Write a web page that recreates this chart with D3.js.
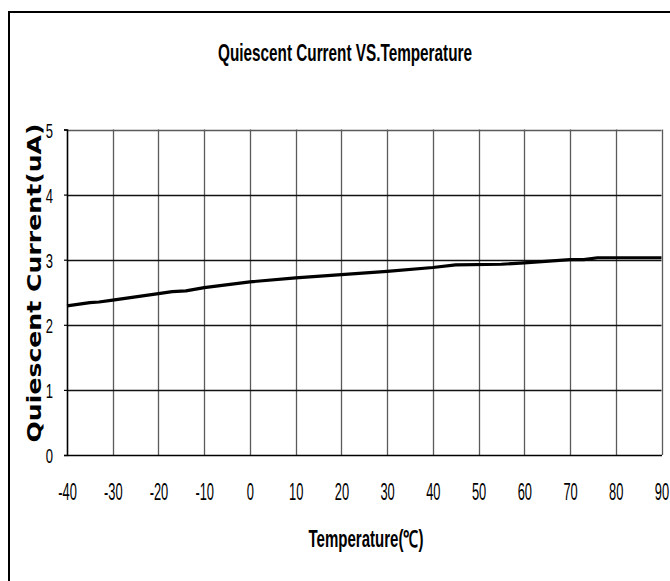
<!DOCTYPE html>
<html>
<head>
<meta charset="utf-8">
<script src="https://cdn.jsdelivr.net/npm/d3@7"></script>
<style>
  html, body { margin: 0; padding: 0; background: #fff; }
  svg { display: block; }
</style>
</head>
<body>
<svg id="chart" width="670" height="581"></svg>
<script>
// ---- data ----
const temperatures = [-40, -35, -33, -30, -25, -20, -17, -14, -10, 0, 10, 20, 30, 40, 45, 55, 60, 70, 73, 76, 90];
const currents     = [2.29, 2.34, 2.35, 2.38, 2.43, 2.48, 2.51, 2.52, 2.57, 2.66, 2.72, 2.77, 2.82, 2.88, 2.92, 2.93, 2.95, 3.00, 3.00, 3.03, 3.03];
const xTicks = [-40, -30, -20, -10, 0, 10, 20, 30, 40, 50, 60, 70, 80, 90];
const yTicks = [0, 1, 2, 3, 4, 5];
const titleText = "Quiescent Current VS.Temperature";
const xLabel = "Temperature(\u2103)";
const yLabel = "Quiescent Current(uA)";

const svg = d3.select("#chart");
const W = 670, H = 581;
const plot = { left: 67, right: 661.5, top: 129.5, bottom: 455 };

// outer border (top & left visible)
svg.append("path")
  .attr("d", `M9,${H + 5} L9,12 L${W + 5},12`)
  .attr("fill", "none").attr("stroke", "#000").attr("stroke-width", 2);

const x = d3.scaleLinear().domain([-40, 90]).range([plot.left, plot.right]);
const y = d3.scaleLinear().domain([0, 5]).range([plot.bottom, plot.top]);

const narrow = (sel, factor) => {
  sel.each(function () {
    const w = this.getComputedTextLength();
    d3.select(this).attr("textLength", w * factor).attr("lengthAdjust", "spacingAndGlyphs");
  });
};

// vertical grid
svg.append("g")
  .selectAll("line").data(xTicks.slice(1)).join("line")
  .attr("x1", d => Math.round(x(d)) + 0.5).attr("x2", d => Math.round(x(d)) + 0.5)
  .attr("y1", plot.top).attr("y2", plot.bottom)
  .attr("stroke", "#5a5a5a").attr("stroke-width", 1.3);

// horizontal grid
svg.append("g")
  .selectAll("line").data(yTicks.slice(1)).join("line")
  .attr("x1", plot.left).attr("x2", plot.right)
  .attr("y1", d => Math.round(y(d)) + 0.5).attr("y2", d => Math.round(y(d)) + 0.5)
  .attr("stroke", d => d === 5 ? "#5a5a5a" : "#111").attr("stroke-width", 1.3);

// y axis
const gy = svg.append("g")
  .attr("transform", `translate(${plot.left},0)`)
  .call(d3.axisLeft(y).tickValues(yTicks).tickSize(3).tickPadding(11).tickFormat(d => String(d)));
gy.select(".domain").attr("stroke", "#000").attr("stroke-width", 1.6);
gy.selectAll(".tick line").attr("stroke", "#000").attr("stroke-width", 1.2);
gy.selectAll(".tick text")
  .attr("font-family", "'Liberation Sans', Arial, sans-serif")
  .attr("font-size", 21).attr("fill", "#000").attr("dy", "0.36em")
  .call(narrow, 0.62);

// x axis
const gx = svg.append("g")
  .attr("transform", `translate(0,${plot.bottom})`)
  .call(d3.axisBottom(x).tickValues(xTicks).tickSize(0).tickPadding(29).tickFormat(d => String(d)));
gx.select(".domain").attr("stroke", "#000").attr("stroke-width", 1.6);
gx.selectAll(".tick text")
  .attr("font-family", "'Liberation Sans', Arial, sans-serif")
  .attr("font-size", 23).attr("fill", "#000").attr("dy", "0.71em")
  .call(narrow, 0.56);

// line
const line = d3.line().x((d, i) => x(temperatures[i])).y(d => y(d));
svg.append("path")
  .datum(currents)
  .attr("d", line)
  .attr("fill", "none").attr("stroke", "#000").attr("stroke-width", 3.2)
  .attr("stroke-linejoin", "round");

// title
svg.append("text")
  .attr("x", 345).attr("y", 61).attr("text-anchor", "middle")
  .attr("font-family", "'Liberation Sans', Arial, sans-serif")
  .attr("font-weight", "bold").attr("font-size", 24)
  .attr("textLength", 254).attr("lengthAdjust", "spacingAndGlyphs")
  .text(titleText);

// x label
svg.append("text")
  .attr("x", 366).attr("y", 547).attr("text-anchor", "middle")
  .attr("font-family", "'Liberation Sans', Arial, sans-serif")
  .attr("font-weight", "bold").attr("font-size", 23)
  .attr("textLength", 115).attr("lengthAdjust", "spacingAndGlyphs")
  .text(xLabel);

// y label
svg.append("text")
  .attr("transform", "translate(41,283) rotate(-90)")
  .attr("text-anchor", "middle")
  .attr("font-family", "'DejaVu Sans', Verdana, sans-serif")
  .attr("font-weight", "bold").attr("font-size", 20)
  .attr("textLength", 319).attr("lengthAdjust", "spacingAndGlyphs")
  .text(yLabel);
</script>
</body>
</html>
